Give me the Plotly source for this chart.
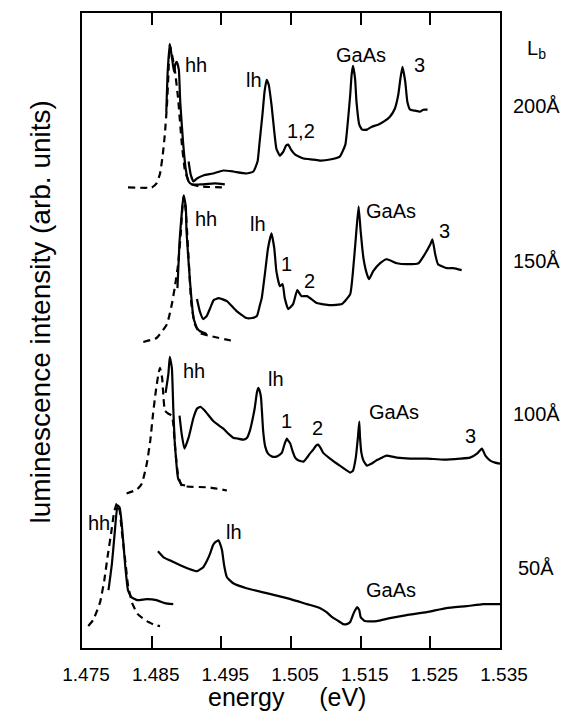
import plotly.graph_objects as go

# ---------------- data (energy in eV, intensity in arbitrary units) ----------------
# 200 A barrier
e200_dash = [1.4816, 1.4850, 1.4857, 1.4862, 1.4866, 1.4869, 1.4872, 1.4874, 1.4876, 1.4883, 1.4888,
             1.4893, 1.4898, 1.4905, 1.4919, 1.4958]
i200_dash = [462, 462, 466, 476, 495, 516, 545, 575, 605, 581, 551, 508, 478, 466, 463, 462]
e200_hh = [1.4871, 1.4873, 1.4876, 1.4879, 1.4882, 1.4884, 1.4886, 1.4889, 1.4891, 1.4895, 1.4899,
           1.4903, 1.4908, 1.4919, 1.4941, 1.4955]
i200_hh = [538, 578, 606, 593, 578, 586, 588, 580, 548, 508, 480, 468, 465, 465, 466, 465]
e200 = [1.4903, 1.4906, 1.4910, 1.4915, 1.4924, 1.4938, 1.4953, 1.4967, 1.4986, 1.4996, 1.5002, 1.5005,
        1.5009, 1.5012, 1.5015, 1.5018, 1.5022, 1.5026, 1.5029, 1.5034, 1.5039, 1.5043, 1.5046, 1.5050,
        1.5056, 1.5068, 1.5082, 1.5092, 1.5106, 1.5120, 1.5128, 1.5132, 1.5135, 1.5137, 1.5139, 1.5142,
        1.5144, 1.5148, 1.5152, 1.5159, 1.5166, 1.5175, 1.5183, 1.5192, 1.5199, 1.5204, 1.5207, 1.5210,
        1.5214, 1.5217, 1.5221, 1.5228, 1.5235, 1.5240, 1.5246]
i200 = [488, 475, 468, 471, 474, 476, 479, 478, 476, 478, 488, 508, 535, 558, 570, 565, 545, 518, 501,
        494, 498, 504, 505, 500, 495, 491, 490, 489, 490, 493, 505, 531, 555, 575, 584, 571, 548, 525,
        520, 520, 523, 525, 528, 533, 541, 555, 571, 583, 568, 548, 540, 539, 538, 540, 540]

# 150 A barrier
e150_dash = [1.4838, 1.4857, 1.4872, 1.4879, 1.4883, 1.4888, 1.4892, 1.4894, 1.4896, 1.4899, 1.4903,
             1.4907, 1.4912, 1.4919, 1.4934, 1.4967]
i150_dash = [307, 311, 325, 345, 361, 385, 418, 441, 453, 438, 391, 345, 325, 316, 313, 308]
e150_hh = [1.4887, 1.4890, 1.4894, 1.4896, 1.4899, 1.4900, 1.4905, 1.4910, 1.4915, 1.4919, 1.4929]
i150_hh = [361, 408, 443, 454, 443, 418, 368, 331, 321, 318, 315]
e150 = [1.4915, 1.4919, 1.4924, 1.4929, 1.4934, 1.4939, 1.4946, 1.4951, 1.4958, 1.4972, 1.4986, 1.4994,
        1.5001, 1.5005, 1.5008, 1.5013, 1.5017, 1.5022, 1.5026, 1.5029, 1.5034, 1.5038, 1.5041, 1.5046,
        1.5053, 1.5059, 1.5065, 1.5073, 1.5087, 1.5106, 1.5123, 1.5135, 1.5139, 1.5143, 1.5147, 1.5150,
        1.5154, 1.5159, 1.5162, 1.5168, 1.5178, 1.5187, 1.5202, 1.5216, 1.5233, 1.5242, 1.5250, 1.5253,
        1.5257, 1.5261, 1.5274, 1.5283, 1.5295]
i150 = [350, 338, 330, 333, 341, 349, 351, 350, 348, 338, 331, 331, 333, 343, 351, 378, 401, 416, 401,
        378, 363, 365, 351, 340, 345, 359, 353, 353, 346, 344, 345, 355, 378, 411, 443, 418, 391, 375,
        370, 378, 386, 390, 386, 385, 386, 395, 405, 410, 395, 385, 381, 381, 379]

# 100 A barrier
e100_dash = [1.4814, 1.4829, 1.4836, 1.4843, 1.4848, 1.4852, 1.4856, 1.4860, 1.4862, 1.4865, 1.4867,
             1.4869, 1.4874, 1.4879, 1.4881, 1.4884, 1.4888, 1.4893, 1.4900, 1.4934, 1.4958]
i100_dash = [155, 159, 165, 185, 208, 235, 258, 276, 281, 271, 251, 238, 235, 233, 225, 198, 173, 163,
             162, 161, 158]
e100_hh = [1.4870, 1.4874, 1.4876, 1.4879, 1.4881, 1.4883, 1.4886, 1.4888, 1.4893, 1.4898]
i100_hh = [256, 275, 292, 281, 241, 208, 181, 170, 164, 163]
e100 = [1.4890, 1.4893, 1.4897, 1.4903, 1.4910, 1.4915, 1.4920, 1.4925, 1.4931, 1.4938, 1.4945, 1.4953,
        1.4960, 1.4967, 1.4974, 1.4982, 1.4987, 1.4991, 1.4995, 1.4998, 1.5001, 1.5003, 1.5005, 1.5007,
        1.5010, 1.5013, 1.5017, 1.5023, 1.5029, 1.5034, 1.5037, 1.5041, 1.5044, 1.5046, 1.5049, 1.5052,
        1.5056, 1.5061, 1.5068, 1.5073, 1.5077, 1.5082, 1.5086, 1.5089, 1.5093, 1.5096, 1.5106, 1.5120,
        1.5135, 1.5139, 1.5143, 1.5146, 1.5148, 1.5149, 1.5151, 1.5154, 1.5159, 1.5166, 1.5172, 1.5178,
        1.5187, 1.5202, 1.5221, 1.5245, 1.5269, 1.5293, 1.5307, 1.5317, 1.5324, 1.5329, 1.5336, 1.5343,
        1.5350]
i100 = [233, 215, 200, 211, 231, 240, 242, 239, 234, 228, 224, 220, 215, 211, 210, 209, 211, 218, 230,
        241, 256, 261, 258, 251, 218, 202, 195, 192, 192, 194, 196, 205, 210, 208, 205, 198, 191, 188,
        187, 191, 195, 199, 203, 204, 200, 196, 190, 183, 176, 178, 191, 211, 227, 212, 196, 188, 183,
        185, 188, 190, 193, 191, 190, 190, 189, 190, 191, 195, 200, 193, 188, 186, 185]

# 50 A barrier
e50_dash = [1.4759, 1.4766, 1.4776, 1.4782, 1.4787, 1.4792, 1.4796, 1.4800, 1.4804, 1.4807, 1.4812,
            1.4816, 1.4822, 1.4830, 1.4843, 1.4855, 1.4862]
i50_dash = [22, 28, 46, 68, 93, 116, 136, 145, 138, 118, 88, 63, 45, 34, 27, 23, 22]
e50_hh = [1.4788, 1.4793, 1.4797, 1.4801, 1.4804, 1.4807, 1.4812, 1.4816, 1.4821, 1.4829, 1.4843,
          1.4857, 1.4869, 1.4881]
i50_hh = [58, 85, 116, 143, 141, 125, 83, 58, 51, 48, 49, 48, 45, 44]
e50 = [1.4859, 1.4867, 1.4876, 1.4891, 1.4905, 1.4915, 1.4924, 1.4929, 1.4934, 1.4938, 1.4941, 1.4946,
       1.4948, 1.4951, 1.4954, 1.4958, 1.4967, 1.4986, 1.5015, 1.5044, 1.5073, 1.5092, 1.5101, 1.5109,
       1.5116, 1.5125, 1.5130, 1.5135, 1.5140, 1.5145, 1.5148, 1.5150, 1.5156, 1.5173, 1.5192, 1.5216,
       1.5245, 1.5273, 1.5302, 1.5326, 1.5350]
i50 = [97, 91, 88, 83, 79, 77, 81, 87, 95, 103, 106, 108, 105, 98, 83, 71, 65, 60, 55, 50, 44, 40, 36,
       31, 28, 24, 24, 26, 35, 41, 38, 31, 27, 27, 30, 33, 36, 40, 42, 44, 44]

# peak labels
peak_text = ["hh", "lh", "1,2", "GaAs", "3",
             "hh", "lh", "1", "2", "GaAs", "3",
             "hh", "lh", "1", "2", "GaAs", "3",
             "hh", "lh", "GaAs"]
peak_e = [1.4913, 1.4997, 1.5065, 1.5151, 1.5235,
          1.4928, 1.5003, 1.5043, 1.5077, 1.5193, 1.5271,
          1.4911, 1.5028, 1.5044, 1.5088, 1.5198, 1.5308,
          1.4774, 1.4968, 1.5193]
peak_i = [583, 568, 517, 593, 583,
          428, 423, 383, 366, 436, 416,
          276, 268, 226, 219, 235, 210.5,
          123, 114, 56]

# barrier width labels (right margin)
lb_text = ["L<sub>b</sub>", "200Å", "150Å", "100Å", "50Å"]
lb_e = 1.5402
lb_i = [597, 540.5, 385.5, 232, 77.5]

tick_vals = [1.475, 1.485, 1.495, 1.505, 1.515, 1.525, 1.535]
tick_text = ["1.475", "1.485", "1.495", "1.505", "1.515", "1.525", "1.535"]

X_RANGE = [1.475, 1.535]
Y_RANGE = [0, 637]

FONT = "Liberation Sans, Arial, sans-serif"
LW = 2.2

fig = go.Figure()

def solid(x, y):
    fig.add_trace(go.Scatter(x=x, y=y, mode="lines", showlegend=False, hoverinfo="skip",
                             line=dict(color="black", width=LW, shape="spline", smoothing=0.4)))

def dashed(x, y):
    fig.add_trace(go.Scatter(x=x, y=y, mode="lines", showlegend=False, hoverinfo="skip",
                             line=dict(color="black", width=LW, dash="7px,5px", shape="spline", smoothing=0.4)))

dashed(e200_dash, i200_dash); solid(e200_hh, i200_hh); solid(e200, i200)
dashed(e150_dash, i150_dash); solid(e150_hh, i150_hh); solid(e150, i150)
dashed(e100_dash, i100_dash); solid(e100_hh, i100_hh); solid(e100, i100)
dashed(e50_dash, i50_dash); solid(e50_hh, i50_hh); solid(e50, i50)

annotations = []
for t, x, y in zip(peak_text, peak_e, peak_i):
    annotations.append(dict(x=x, y=y, xref="x", yref="y", text=t, showarrow=False,
                            font=dict(family=FONT, size=20, color="black"),
                            xanchor="center", yanchor="middle", yshift=2))
# labels outside the plotting area: convert data position to paper fraction
lb_px = (lb_e - X_RANGE[0]) / (X_RANGE[1] - X_RANGE[0])
for t, y in zip(lb_text, lb_i):
    annotations.append(dict(x=lb_px, y=(y - Y_RANGE[0]) / (Y_RANGE[1] - Y_RANGE[0]),
                            xref="paper", yref="paper", text=t, showarrow=False,
                            font=dict(family=FONT, size=20, color="black"),
                            xanchor="center", yanchor="middle", yshift=3))
annotations.append(dict(x=-0.1005, y=0.53, xref="paper", yref="paper",
                        text="luminescence intensity (arb. units)", textangle=-90, showarrow=False,
                        font=dict(family=FONT, size=28, color="black"),
                        xanchor="center", yanchor="middle"))
annotations.append(dict(x=0.49, y=-0.077, xref="paper", yref="paper",
                        text="energy\u00a0\u00a0\u00a0\u00a0\u00a0(eV)", showarrow=False,
                        font=dict(family=FONT, size=25, color="black"),
                        xanchor="center", yanchor="middle"))

# page body has an 8px margin, so the figure is sized/offset to compensate
fig.update_layout(
    width=565, height=707,
    margin=dict(l=74, r=73, t=3, b=67),
    paper_bgcolor="white", plot_bgcolor="white",
    annotations=annotations,
    xaxis=dict(range=X_RANGE, tickvals=tick_vals, ticktext=tick_text,
               ticks="inside", ticklen=12, tickwidth=1.5, tickcolor="black",
               showline=True, linecolor="black", linewidth=2, mirror="ticks",
               showgrid=False, zeroline=False, ticklabelstandoff=8, ticklabelshift=4,
               tickfont=dict(family=FONT, size=19, color="black")),
    yaxis=dict(range=Y_RANGE, showticklabels=False, ticks="",
               showline=True, linecolor="black", linewidth=2, mirror=True,
               showgrid=False, zeroline=False),
)

fig.write_html("out.html")
